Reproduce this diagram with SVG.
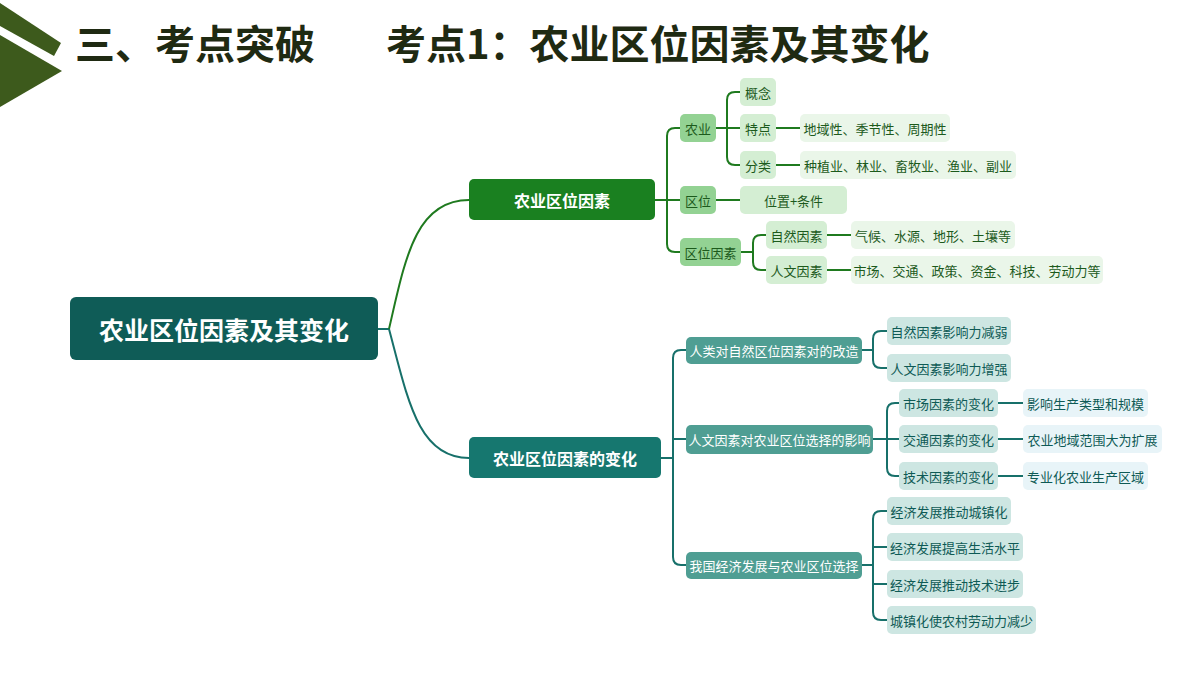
<svg xmlns="http://www.w3.org/2000/svg" width="1200" height="675" viewBox="0 0 1200 675">
<style>
text{font-family:"Noto Sans CJK SC","Noto Sans",sans-serif;dominant-baseline:central;text-anchor:middle}
.title{font-size:40px;font-weight:700;fill:#1f2a12;text-anchor:start;dominant-baseline:alphabetic}
.t13{font-size:13px}
.g{fill:none;stroke:#1f7a1f;stroke-width:2}
.c{fill:none;stroke:#17706a;stroke-width:2}
.gm{fill:#93d293}
.gl{fill:#d4eed3}
.gx{fill:#eaf6e9}
.gt{fill:#1c5a1c}
.tm{fill:#4f9e93}
.tl{fill:#cde6e2}
.tx{fill:#e8f4f8}
.tt{fill:#0e5a55}
.w{fill:#fff}
</style>
<rect width="1200" height="675" fill="#fff"/>
<g id="logo">
<polygon points="0,3 61,43 54,56 0,26" fill="#3d5a1c"/>
<polygon points="0,35 62,71 0,107" fill="#3d5a1c"/>
</g>
<g id="title">
<text class="title" x="75" y="59">三、考点突破</text>
<text class="title" x="386" y="59">考点1：农业区位因素及其变化</text>
</g>
<g id="connectors">
<path class="c" d="M378,329 H389"/>
<path class="g" d="M389,329 C405,260 415,200 469,200"/>
<path class="c" d="M389,329 C408,400 418,458 469,458"/>
<path class="g" d="M655,200 H680 M680,128 H675 Q667,128 667,136 V244 Q667,252 675,252 H680"/>
<path class="g" d="M716,128 H740 M740,92 H735 Q727,92 727,100 V157 Q727,165 735,165 H740"/>
<path class="g" d="M776,128 H800 M776,165 H800"/>
<path class="g" d="M716,200 H740"/>
<path class="g" d="M741,252 H753 M766,235 H761 Q753,235 753,243 V262 Q753,270 761,270 H766"/>
<path class="g" d="M827,235 H851 M827,270 H851"/>
<path class="c" d="M661,458 H673 M686,350 H681 Q673,350 673,358 V557 Q673,565 681,565 H686 M673,439 H686"/>
<path class="c" d="M862,350 H873 M887,331 H881 Q873,331 873,339 V360 Q873,368 881,368 H887"/>
<path class="c" d="M873,439 H899 M899,403 H895 Q887,403 887,411 V468 Q887,476 895,476 H899"/>
<path class="c" d="M998,403 H1023 M998,439 H1023 M998,476 H1023"/>
<path class="c" d="M862,565 H873 M887,511 H881 Q873,511 873,519 V612 Q873,620 881,620 H887 M873,547 H887 M873,584 H887"/>
</g>
<g id="root">
<rect x="70" y="297" width="308" height="63" rx="6" fill="#0f5c57"/>
<text x="224" y="329" style="font-size:25px;font-weight:700" class="w">农业区位因素及其变化</text>
</g>
<g id="b1">
<rect x="469" y="179" width="186" height="41" rx="5" fill="#1a8020"/>
<text x="562" y="200" style="font-size:16px;font-weight:700" class="w">农业区位因素</text>
</g>
<g id="b2">
<rect x="469" y="437" width="192" height="41" rx="5" fill="#16776f"/>
<text x="565" y="458" style="font-size:16px;font-weight:700" class="w">农业区位因素的变化</text>
</g>
<g id="n-nongye"><rect class="gm" x="680" y="114" width="36" height="28" rx="5"/><text class="t13 gt" x="698" y="128">农业</text></g>
<g id="n-quwei"><rect class="gm" x="680" y="186" width="36" height="28" rx="5"/><text class="t13 gt" x="698" y="200">区位</text></g>
<g id="n-quweiyinsu"><rect class="gm" x="680" y="238" width="61" height="28" rx="5"/><text class="t13 gt" x="710.5" y="252">区位因素</text></g>
<g id="n-gainian"><rect class="gl" x="740" y="78" width="36" height="28" rx="5"/><text class="t13 gt" x="758" y="92">概念</text></g>
<g id="n-tedian"><rect class="gl" x="740" y="114" width="36" height="28" rx="5"/><text class="t13 gt" x="758" y="128">特点</text></g>
<g id="n-fenlei"><rect class="gl" x="740" y="151" width="36" height="28" rx="5"/><text class="t13 gt" x="758" y="165">分类</text></g>
<g id="n-tedian-v"><rect class="gx" x="800" y="114" width="150" height="28" rx="5"/><text class="t13 gt" x="875" y="128">地域性、季节性、周期性</text></g>
<g id="n-fenlei-v"><rect class="gx" x="800" y="151" width="216" height="28" rx="5"/><text class="t13 gt" x="908" y="165">种植业、林业、畜牧业、渔业、副业</text></g>
<g id="n-weizhi"><rect class="gl" x="740" y="186" width="107" height="28" rx="5"/><text class="t13 gt" x="793.5" y="200">位置+条件</text></g>
<g id="n-ziran"><rect class="gl" x="766" y="221" width="61" height="28" rx="5"/><text class="t13 gt" x="796.5" y="235">自然因素</text></g>
<g id="n-renwen"><rect class="gl" x="766" y="256" width="61" height="28" rx="5"/><text class="t13 gt" x="796.5" y="270">人文因素</text></g>
<g id="n-ziran-v"><rect class="gx" x="851" y="221" width="164" height="28" rx="5"/><text class="t13 gt" x="933" y="235">气候、水源、地形、土壤等</text></g>
<g id="n-renwen-v"><rect class="gx" x="851" y="256" width="252" height="28" rx="5"/><text class="t13 gt" x="977" y="270">市场、交通、政策、资金、科技、劳动力等</text></g>
<g id="n-c1"><rect class="tm" x="686" y="337" width="176" height="27" rx="5"/><text class="t13 w" x="774" y="350.5">人类对自然区位因素对的改造</text></g>
<g id="n-c2"><rect class="tm" x="686" y="425" width="187" height="29" rx="5"/><text class="t13 w" x="779.5" y="439.5">人文因素对农业区位选择的影响</text></g>
<g id="n-c3"><rect class="tm" x="686" y="552" width="176" height="27" rx="5"/><text class="t13 w" x="774" y="565.5">我国经济发展与农业区位选择</text></g>
<g id="n-c1a"><rect class="tl" x="887" y="317" width="124" height="28" rx="5"/><text class="t13 tt" x="949" y="331">自然因素影响力减弱</text></g>
<g id="n-c1b"><rect class="tl" x="887" y="354" width="124" height="28" rx="5"/><text class="t13 tt" x="949" y="368">人文因素影响力增强</text></g>
<g id="n-c2a"><rect class="tl" x="899" y="389" width="99" height="28" rx="5"/><text class="t13 tt" x="948.5" y="403">市场因素的变化</text></g>
<g id="n-c2b"><rect class="tl" x="899" y="425" width="99" height="28" rx="5"/><text class="t13 tt" x="948.5" y="439">交通因素的变化</text></g>
<g id="n-c2c"><rect class="tl" x="899" y="462" width="99" height="28" rx="5"/><text class="t13 tt" x="948.5" y="476">技术因素的变化</text></g>
<g id="n-c2a-v"><rect class="tx" x="1023" y="389" width="125" height="28" rx="5"/><text class="t13 tt" x="1085.5" y="403">影响生产类型和规模</text></g>
<g id="n-c2b-v"><rect class="tx" x="1023" y="425" width="139" height="28" rx="5"/><text class="t13 tt" x="1092.5" y="439">农业地域范围大为扩展</text></g>
<g id="n-c2c-v"><rect class="tx" x="1023" y="462" width="125" height="28" rx="5"/><text class="t13 tt" x="1085.5" y="476">专业化农业生产区域</text></g>
<g id="n-c3a"><rect class="tl" x="887" y="497" width="124" height="28" rx="5"/><text class="t13 tt" x="949" y="511">经济发展推动城镇化</text></g>
<g id="n-c3b"><rect class="tl" x="887" y="533" width="136" height="28" rx="5"/><text class="t13 tt" x="955" y="547">经济发展提高生活水平</text></g>
<g id="n-c3c"><rect class="tl" x="887" y="570" width="136" height="28" rx="5"/><text class="t13 tt" x="955" y="584">经济发展推动技术进步</text></g>
<g id="n-c3d"><rect class="tl" x="887" y="606" width="149" height="28" rx="5"/><text class="t13 tt" x="961.5" y="620">城镇化使农村劳动力减少</text></g>
</svg>
